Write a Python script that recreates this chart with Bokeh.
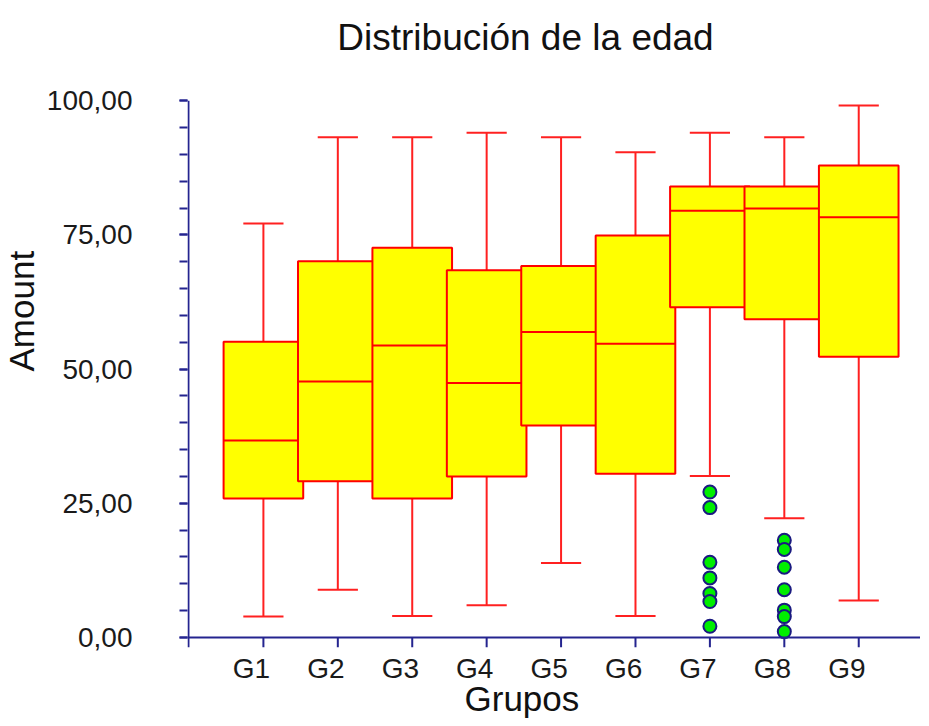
from bokeh.plotting import figure
from bokeh.models import FixedTicker, Range1d, Title, LinearAxis, Span, Label
from bokeh.embed import file_html
from bokeh.resources import INLINE

# ---- data ----
groups = ["G1", "G2", "G3", "G4", "G5", "G6", "G7", "G8", "G9"]
whisker_low = [3.9, 8.9, 4.0, 6.0, 13.9, 4.0, 30.1, 22.2, 6.9]
q1 = [25.9, 29.1, 25.9, 30.0, 39.5, 30.5, 61.5, 59.3, 52.3]
median = [36.7, 47.7, 54.4, 47.4, 56.9, 54.7, 79.5, 79.9, 78.3]
q3 = [55.1, 70.1, 72.6, 68.4, 69.2, 74.9, 84.0, 84.0, 87.9]
whisker_high = [77.1, 93.2, 93.2, 94.0, 93.2, 90.4, 94.0, 93.2, 99.1]

outlier_groups = ["G7"] * 7 + ["G8"] * 7
outlier_values = [27.1, 24.2, 14.0, 11.1, 8.2, 6.7, 2.1,
                  18.1, 16.4, 13.1, 8.9, 5.1, 3.9, 1.1]

y_ticks = [0, 25, 50, 75, 100]
y_tick_labels = ["0,00", "25,00", "50,00", "75,00", "100,00"]

title_text = "Distribución de la edad"
x_title = "Grupos"
y_title = "Amount"

# ---- styling ----
FONT = "Liberation Sans"
AXIS_COLOR = "#24248f"
BOX_W = 1.07
CAP_W = 0.54
LABEL_SHIFT = -0.16   # category labels sit slightly left of their ticks
Y_PAD = 1.86          # room below zero for the category tick marks
TOP_ROOM = 18.45      # room above the value axis for the title
X_START, X_END = -0.02, 9.83
AXIS_NUDGE = 0.013    # keeps the drawn value-axis line fully inside the plot area

pos = {g: i + 1 for i, g in enumerate(groups)}
xs = [pos[g] for g in groups]

p = figure(width=920, height=722, output_backend="svg", toolbar_location=None,
           x_range=Range1d(X_START, X_END),
           y_range=Range1d(-Y_PAD, max(y_ticks) + 0.2 + TOP_ROOM),
           min_border_left=186, min_border_right=0, min_border_top=0,
           min_border_bottom=75, x_axis_location=None)
p.outline_line_color = None
p.ygrid.visible = False
p.background_fill_color = "white"
p.border_fill_color = "white"

# whiskers
p.segment(x0=xs, y0=whisker_low, x1=xs, y1=q1, line_color="#ff2020", line_width=2)
p.segment(x0=xs, y0=q3, x1=xs, y1=whisker_high, line_color="#ff2020", line_width=2)
p.segment(x0=[x - CAP_W / 2 for x in xs], y0=whisker_low,
          x1=[x + CAP_W / 2 for x in xs], y1=whisker_low, line_color="#ff2020", line_width=2)
p.segment(x0=[x - CAP_W / 2 for x in xs], y0=whisker_high,
          x1=[x + CAP_W / 2 for x in xs], y1=whisker_high, line_color="#ff2020", line_width=2)

# boxes, drawn group by group so later boxes overlap earlier ones
for i, g in enumerate(groups):
    x = pos[g]
    p.quad(left=[x - BOX_W / 2], right=[x + BOX_W / 2], bottom=[q1[i]], top=[q3[i]],
           fill_color="#ffff00", line_color="#ff0000", line_width=2)
    p.segment(x0=[x - BOX_W / 2], y0=[median[i]], x1=[x + BOX_W / 2], y1=[median[i]],
              line_color="#ff0000", line_width=2)

# outliers
p.scatter(x=[pos[g] for g in outlier_groups], y=outlier_values, size=13,
          fill_color="#00ee00", line_color="#1a1a80", line_width=2)

# category axis line at zero and its tick marks
p.add_layout(Span(location=0, dimension="width", line_color=AXIS_COLOR, line_width=2))
p.segment(x0=xs, y0=[0] * len(xs), x1=xs, y1=[-Y_PAD] * len(xs),
          line_color=AXIS_COLOR, line_width=2)

# value axis line (drawn so that it stops at the top tick)
p.segment(x0=[X_START + AXIS_NUDGE], y0=[-Y_PAD], x1=[X_START + AXIS_NUDGE],
          y1=[max(y_ticks)], line_color=AXIS_COLOR, line_width=2)

# y axis ticks and labels
p.yaxis.ticker = FixedTicker(ticks=y_ticks, minor_ticks=list(range(0, 101, 5)))
p.yaxis.major_label_overrides = dict(zip(y_ticks, y_tick_labels))
p.yaxis.axis_line_color = None
p.yaxis.major_tick_line_color = AXIS_COLOR
p.yaxis.minor_tick_line_color = AXIS_COLOR
p.yaxis.major_tick_line_width = 2
p.yaxis.minor_tick_line_width = 2
p.yaxis.major_tick_in = 0
p.yaxis.major_tick_out = 8
p.yaxis.minor_tick_in = 0
p.yaxis.minor_tick_out = 8
p.yaxis.major_label_standoff = 47
p.yaxis.major_label_text_font = FONT
p.yaxis.major_label_text_font_size = "28px"
p.yaxis.major_label_text_color = "#1a1a1a"

# category labels (slightly left of their ticks)
label_ticks = [x + LABEL_SHIFT for x in xs]
x_label_axis = LinearAxis(ticker=FixedTicker(ticks=label_ticks, minor_ticks=[]),
                          major_label_overrides=dict(zip(label_ticks, groups)),
                          axis_line_color=None, major_tick_line_color=None,
                          minor_tick_line_color=None,
                          major_tick_in=0, major_tick_out=0, minor_tick_out=0,
                          major_label_standoff=5, major_label_text_font=FONT,
                          major_label_text_font_size="28px",
                          major_label_text_color="#1a1a1a")
p.add_layout(x_label_axis, "below")
p.xgrid.visible = False

# chart title (inside the drawing area, above the value axis)
p.add_layout(Label(x=338, y=610, x_units="screen", y_units="screen", text=title_text,
                   text_align="center", text_baseline="alphabetic",
                   text_font=FONT, text_font_size="37px", text_color="#111111"))

# axis titles
p.add_layout(Title(text=x_title, align="left", offset=277, standoff=-15,
                   vertical_align="top", text_font=FONT, text_font_size="35px",
                   text_font_style="normal", text_color="#111111"), "below")
p.add_layout(Title(text=y_title, align="left", offset=276, standoff=2,
                   vertical_align="top", text_font=FONT, text_font_size="35px",
                   text_font_style="normal", text_color="#111111"), "left")

open("out.html", "w").write(file_html(p, INLINE))
